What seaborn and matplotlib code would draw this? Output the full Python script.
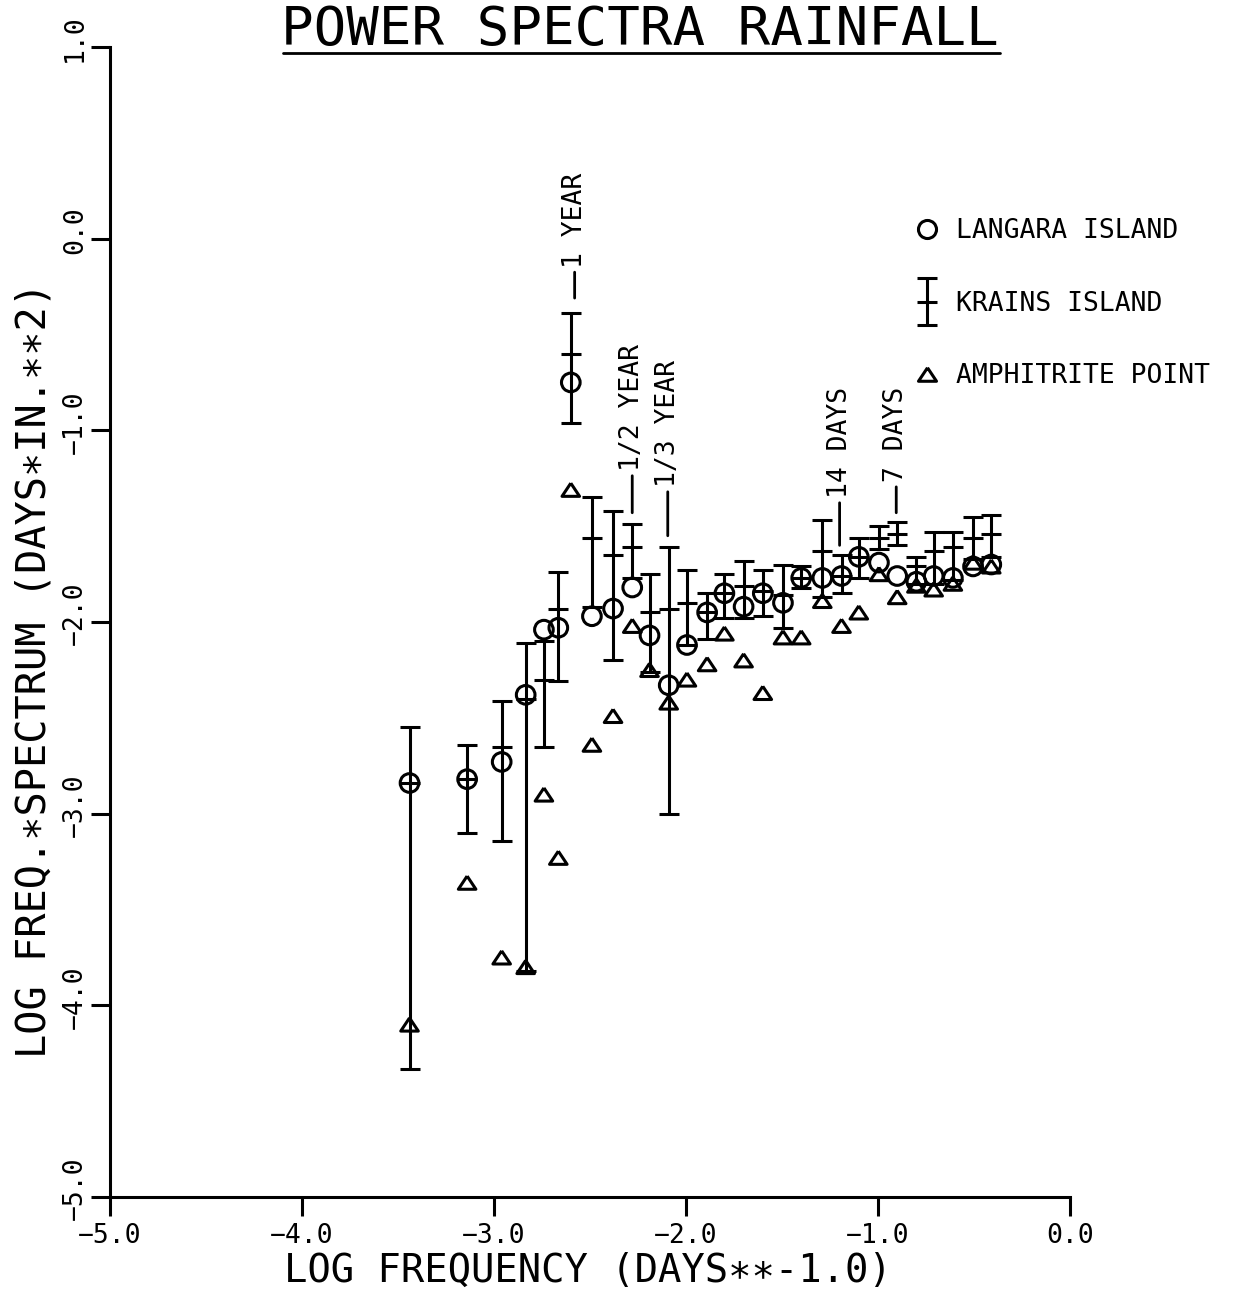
import matplotlib
matplotlib.use("Agg")
import numpy as np
import pandas as pd
import matplotlib.pyplot as plt
import seaborn as sns
from matplotlib.lines import Line2D
from matplotlib.markers import MarkerStyle
from matplotlib.container import ErrorbarContainer
from matplotlib.legend_handler import HandlerErrorbar
from matplotlib.transforms import ScaledTranslation

# ---------------- data ----------------
log_freq = [-3.44, -3.14, -2.96, -2.835, -2.74, -2.665, -2.60, -2.49, -2.38, -2.28,
            -2.19, -2.09, -1.995, -1.89, -1.80, -1.70, -1.60, -1.495, -1.40, -1.29,
            -1.19, -1.10, -0.995, -0.90, -0.80, -0.71, -0.61, -0.505, -0.41]

langara = [-2.84, -2.82, -2.73, -2.38, -2.04, -2.03, -0.75, -1.97, -1.93, -1.82,
           -2.07, -2.33, -2.12, -1.95, -1.85, -1.92, -1.85, -1.90, -1.77, -1.77,
           -1.76, -1.66, -1.69, -1.76, -1.79, -1.76, -1.77, -1.71, -1.70]

krains = [-2.84, -2.82, -2.65, -2.40, -2.30, -1.93, -0.60, -1.56, -1.65, -1.61,
          -1.95, -1.93, -1.90, -1.95, -1.85, -1.81, -1.84, -1.86, -1.77, -1.63,
          -1.76, -1.66, -1.56, -1.54, -1.71, -1.63, -1.61, -1.56, -1.54]
krains_low = [-4.33, -3.10, -3.14, -3.82, -2.65, -2.31, -0.96, -1.92, -2.20, -1.77,
              -2.26, -3.00, -2.12, -2.09, -1.98, -1.98, -1.97, -2.03, -1.82, -1.87,
              -1.85, -1.77, -1.62, -1.60, -1.80, -1.80, -1.78, -1.67, -1.66]
krains_high = [-2.55, -2.64, -2.41, -2.11, -2.10, -1.74, -0.39, -1.35, -1.42, -1.49,
               -1.75, -1.61, -1.73, -1.85, -1.75, -1.68, -1.73, -1.70, -1.71, -1.47,
               -1.65, -1.56, -1.50, -1.48, -1.66, -1.53, -1.53, -1.45, -1.44]

amphitrite = [-4.10, -3.36, -3.75, -3.80, -2.90, -3.23, -1.31, -2.64, -2.49, -2.02,
              -2.25, -2.42, -2.30, -2.22, -2.06, -2.20, -2.37, -2.08, -2.08, -1.89,
              -2.02, -1.95, -1.75, -1.87, -1.81, -1.83, -1.80, -1.69, -1.71]

period_labels = ["1 YEAR", "1/2 YEAR", "1/3 YEAR", "14 DAYS", "7 DAYS"]
period_x = [-2.58, -2.28, -2.095, -1.20, -0.905]
period_y = [-0.31, -1.43, -1.55, -1.60, -1.43]
period_offset = [22, 30, 35, 34, 22]

series_names = ["LANGARA ISLAND", "KRAINS ISLAND", "AMPHITRITE POINT"]

x_ticks = [-5.0, -4.0, -3.0, -2.0, -1.0, 0.0]
x_tick_labels = ["\u22125.0", "\u22124.0", "\u22123.0", "\u22122.0", "\u22121.0", "0.0"]
y_ticks = [-5.0, -4.0, -3.0, -2.0, -1.0, 0.0, 1.0]
y_tick_labels = ["\u22125.0", "\u22124.0", "\u22123.0", "\u22122.0", "\u22121.0", "0.0", "1.0"]

title = "POWER SPECTRA RAINFALL"
x_label = "LOG FREQUENCY (DAYS\u2217\u2217-1.0)"
y_label = "LOG FREQ.\u2217SPECTRUM (DAYS\u2217IN.\u2217\u22172)"

df = pd.DataFrame({"log_freq": log_freq, "langara": langara, "krains": krains,
                   "low": krains_low, "high": krains_high, "amphitrite": amphitrite})

# ---------------- style ----------------
sns.set_theme(style="ticks", rc={
    "axes.edgecolor": "black", "axes.labelcolor": "black", "text.color": "black",
    "xtick.color": "black", "ytick.color": "black", "axes.linewidth": 2.2,
})
plt.rcParams["font.family"] = ["DejaVu Sans Mono", "DejaVu Sans"]

W, H = 1239, 1290
fig = plt.figure(figsize=(W / 100, H / 100), dpi=100)
fig.patch.set_facecolor("white")
ax = fig.add_axes([110 / W, 1 - 1197 / H, 960 / W, 1150 / H])

tri_marker = MarkerStyle([(0, 0.75), (-1, -0.75), (1, -0.75), (0, 0.75)])

# Krains Island: error bars with a horizontal tick at the estimate
yerr = np.vstack([df["krains"] - df["low"], df["high"] - df["krains"]])
eb = ax.errorbar(df["log_freq"], df["krains"], yerr=yerr, fmt="_", color="black",
                 ms=14, mew=2.2, elinewidth=2.2, capsize=7, capthick=2.2, zorder=2)

# Langara Island: open circles
sns.scatterplot(data=df, x="log_freq", y="langara", ax=ax, marker="o", s=180,
                facecolors="none", edgecolor="black", linewidth=2.2, zorder=3)
# Amphitrite Point: open triangles
sns.scatterplot(data=df, x="log_freq", y="amphitrite", ax=ax, marker=tri_marker, s=160,
                facecolors="none", edgecolor="black", linewidth=2.2, zorder=3)

# period annotations
for lab, px, py, off in zip(period_labels, period_x, period_y, period_offset):
    ax.annotate(lab, xy=(px, py), xytext=(0, off), textcoords="offset points",
                rotation=90, ha="center", va="bottom", fontsize=19,
                arrowprops=dict(arrowstyle="-", lw=2.0, color="black",
                                shrinkA=1, shrinkB=0, relpos=(0.5, 0.0)))

# axes
ax.set_xlim(-5, 0)
ax.set_ylim(-5, 1)
sns.despine(ax=ax, top=True, right=True)
ax.set_xticks(x_ticks, labels=x_tick_labels)
ax.set_yticks(y_ticks, labels=y_tick_labels)
ax.tick_params(axis="both", direction="out", length=14, width=2.2, labelsize=19)
ax.tick_params(axis="x", pad=5)
ax.tick_params(axis="y", pad=2, labelrotation=90, labelsize=19)
shift_up = ScaledTranslation(0, 6 / 72, fig.dpi_scale_trans)
for tick in ax.yaxis.get_major_ticks():
    tick.label1.set_va("center")
    tick.label1.set_transform(tick.label1.get_transform() + shift_up)

ax.set_xlabel(x_label, fontsize=28)
ax.set_ylabel(y_label, fontsize=29)
ax.xaxis.set_label_coords(0.498, -0.048)
ax.yaxis.set_label_coords(-0.058, 0.458)

# legend
h_circ = Line2D([], [], ls="none", marker="o", ms=13, mfc="none", mec="black", mew=2.2)
h_tri = Line2D([], [], ls="none", marker=tri_marker, ms=13, mfc="none", mec="black", mew=2.2)
ax.legend([h_circ, eb, h_tri], series_names, loc="upper left",
          bbox_to_anchor=(0.835, 0.851), frameon=False, fontsize=19,
          handlelength=1.2, handletextpad=0.5, labelspacing=1.76,
          borderaxespad=0, borderpad=0, numpoints=1,
          handler_map={ErrorbarContainer: HandlerErrorbar(yerr_size=0.9)})

# title with underline
fig.text(640 / W, 1 - 45 / H, title, ha="center", va="baseline", fontsize=39)
fig.add_artist(Line2D([283 / W, 1000 / W], [1 - 53 / H, 1 - 53 / H],
                      transform=fig.transFigure, color="black", lw=2.0))

fig.savefig("out.png", dpi=100, facecolor="white")
